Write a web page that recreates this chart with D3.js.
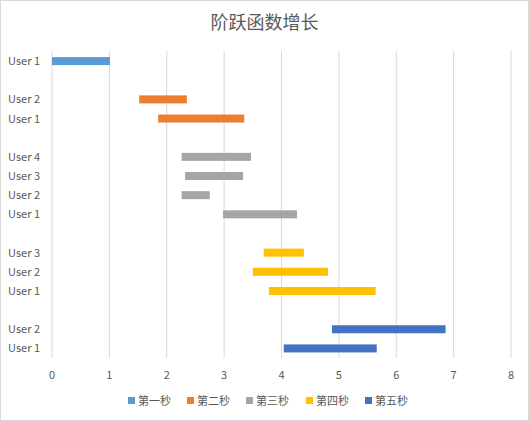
<!DOCTYPE html><html><head><meta charset="utf-8"><script src="https://cdn.jsdelivr.net/npm/d3@7"></script>
<style>body{margin:0;background:#fff}svg{font-family:"Microsoft YaHei","Noto Sans CJK SC",sans-serif}</style></head><body><svg width="529" height="421"></svg><script>
const seriesNames=["第一秒","第二秒","第三秒","第四秒","第五秒"];
const colors=["#5B9BD5","#ED7D31","#A5A5A5","#FFC000","#4472C4"];
const groupUsers=[["User 1"],["User 2","User 1"],["User 4","User 3","User 2","User 1"],["User 3","User 2","User 1"],["User 2","User 1"]];
const starts=[[0],[1.52,1.85],[2.26,2.32,2.26,2.98],[3.69,3.50,3.78],[4.88,4.04]];
const ends=[[1.01],[2.35,3.35],[3.47,3.33,2.75,4.27],[4.39,4.81,5.64],[6.86,5.66]];
const xTicks=[0,1,2,3,4,5,6,7,8];
const svg=d3.select("svg");
svg.append("rect").attr("x",0.5).attr("y",0.5).attr("width",528).attr("height",420).attr("fill","#fff").attr("stroke","#d9d9d9");
svg.append("text").attr("x",264.5).attr("y",29).attr("text-anchor","middle").attr("font-size",18).attr("fill","#595959").text("阶跃函数增长");
const x=d3.scaleLinear().domain([0,8]).range([52,511]);
const slots=[];
groupUsers.forEach((g,gi)=>{ if(gi>0) slots.push(null); g.forEach((u,ui)=>slots.push({u,gi,ui}));});
const y=d3.scaleBand().domain(d3.range(slots.length)).range([51.5,358]);
const gGrid=svg.append("g");
xTicks.forEach(t=>gGrid.append("line").attr("x1",x(t)).attr("x2",x(t)).attr("y1",51).attr("y2",358).attr("stroke","#d9d9d9"));
slots.forEach((s,i)=>{ if(!s) return;
 const cy=y(i)+y.bandwidth()/2;
 svg.append("rect").attr("x",x(starts[s.gi][s.ui])).attr("width",x(ends[s.gi][s.ui])-x(starts[s.gi][s.ui])).attr("y",cy-4).attr("height",8).attr("fill",colors[s.gi]);
 svg.append("text").attr("x",40).attr("y",cy+4).attr("text-anchor","end").attr("font-size",11).attr("fill","#595959").text(s.u);
});
xTicks.forEach(t=>svg.append("text").attr("x",x(t)).attr("y",379).attr("text-anchor","middle").attr("font-size",11).attr("fill","#595959").text(t));
const lx=[128,187,246,306,365];
seriesNames.forEach((n,i)=>{
 svg.append("rect").attr("x",lx[i]).attr("y",397).attr("width",7).attr("height",7).attr("fill",colors[i]);
 svg.append("text").attr("x",lx[i]+10).attr("y",405).attr("font-size",11).attr("fill","#595959").text(n);
});
</script></body></html>
